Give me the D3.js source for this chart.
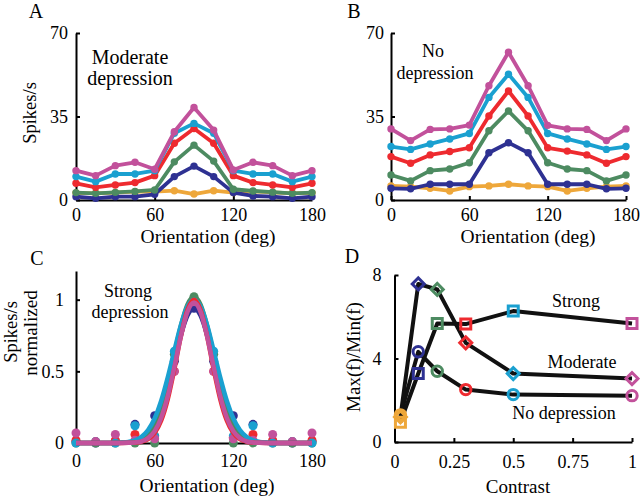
<!DOCTYPE html>
<html>
<head>
<meta charset="utf-8">
<script src="https://cdn.jsdelivr.net/npm/d3@7"></script>
<style>
  body { margin: 0; background: #fff; }
  .axis path, .axis line { stroke: #000; stroke-width: 2; }
  .axis text { font-size: 18px; fill: #000; }
  .lbl { fill: #000; }
</style>
</head>
<body>
<svg width="640" height="498"></svg>
<script>
let serif = "'Liberation Serif', 'Times New Roman', Times, 'DejaVu Serif', serif"

// orientations (deg) for panels A-C
let orient = [0, 15, 30, 45, 60, 75, 90, 105, 120, 135, 150, 165, 180]
let colors = ['#eea73a', '#2e3192', '#4d8b61', '#ee2a2f', '#1aa0d0', '#c2519b']
let seriesNames = ['orange', 'blue', 'green', 'red', 'cyan', 'magenta']

// panel A: moderate depression (spikes/s)
let aOrange  = [3.0, 2.8, 3.1, 3.5, 3.5, 3.9, 2.5, 3.9, 3.1, 3.6, 3.2, 2.8, 3.0]
let aBlue    = [1.4, 0.7, 1.4, 1.4, 2.4, 9.8, 14.2, 9.8, 3.1, 1.7, 1.4, 0.7, 1.4]
let aGreen   = [3.1, 2.8, 3.2, 3.6, 4.2, 16.0, 23.0, 16.3, 4.5, 3.8, 3.3, 2.8, 3.1]
let aRed     = [7.0, 5.3, 6.3, 7.3, 10.2, 23.8, 30.0, 23.8, 10.2, 7.3, 6.3, 5.3, 7.0]
let aCyan    = [9.8, 7.7, 10.9, 10.9, 12.3, 28.0, 32.1, 28.0, 12.3, 10.9, 10.9, 7.7, 9.8]
let aMagenta = [12.3, 10.2, 14.4, 15.8, 12.9, 28.6, 38.8, 29.3, 12.6, 15.8, 14.4, 10.2, 12.3]

// panel B: no depression (spikes/s)
let bOrange  = [5.9, 5.6, 4.9, 3.8, 5.6, 5.9, 6.6, 5.9, 5.6, 3.8, 4.9, 5.6, 5.9]
let bBlue    = [4.9, 4.7, 6.6, 6.6, 6.6, 19.8, 24.0, 19.8, 6.6, 6.6, 6.6, 4.7, 4.9]
let bGreen   = [10.5, 8.0, 12.3, 13.0, 15.6, 29.0, 37.3, 29.0, 15.6, 13.0, 12.3, 8.0, 10.5]
let bRed     = [18.2, 15.4, 18.9, 20.3, 21.9, 35.2, 45.7, 35.2, 21.9, 20.5, 18.9, 15.4, 18.2]
let bCyan    = [22.4, 21.2, 23.5, 25.6, 27.9, 43.0, 52.7, 43.0, 27.9, 25.6, 23.5, 21.2, 22.4]
let bMagenta = [29.8, 24.9, 29.6, 29.8, 31.4, 47.9, 61.9, 47.9, 31.3, 29.8, 29.6, 24.9, 29.8]

// panel C: strong depression, normalized points
let cBlue    = [0.01, 0.0, 0.01, 0.13, 0.19, 0.57, 0.94, 0.57, 0.19, 0.13, 0.01, 0.0, 0.01]
let cGreen   = [0.0, 0.0, 0.0, 0.0, 0.0, 0.62, 1.02, 0.62, 0.0, 0.0, 0.0, 0.0, 0.0]
let cRed     = [0.02, 0.01, 0.02, 0.06, 0.05, 0.5, 1.0, 0.5, 0.04, 0.06, 0.02, 0.01, 0.02]
let cCyan    = [0.0, 0.01, 0.0, 0.12, 0.05, 0.64, 1.0, 0.64, 0.05, 0.12, 0.0, 0.01, 0.0]
let cMagenta = [0.07, 0.01, 0.06, 0.02, 0.03, 0.5, 0.98, 0.5, 0.03, 0.02, 0.06, 0.01, 0.07]

// panel C: fitted curves
let fitX       = [0, 30, 35, 40, 45, 50, 55, 60, 65, 70, 75, 80, 85, 90, 95, 100, 105, 110, 115, 120, 125, 130, 135, 140, 145, 150, 180]
let fitCyan    = [0, 0, 0.003, 0.008, 0.019, 0.044, 0.091, 0.172, 0.295, 0.458, 0.644, 0.823, 0.952, 1.0, 0.952, 0.823, 0.644, 0.458, 0.295, 0.172, 0.091, 0.044, 0.019, 0.008, 0.003, 0, 0]
let fitGreen   = [0, 0, 0.001, 0.004, 0.011, 0.030, 0.067, 0.138, 0.254, 0.419, 0.619, 0.817, 0.965, 1.02, 0.965, 0.817, 0.619, 0.419, 0.254, 0.138, 0.067, 0.030, 0.011, 0.004, 0.001, 0, 0]
let fitBlue    = [0, 0, 0.001, 0.004, 0.010, 0.027, 0.062, 0.127, 0.234, 0.386, 0.571, 0.753, 0.889, 0.94, 0.889, 0.753, 0.571, 0.386, 0.234, 0.127, 0.062, 0.027, 0.010, 0.004, 0.001, 0, 0]
let fitRed     = [0, 0, 0, 0.001, 0.003, 0.009, 0.027, 0.070, 0.157, 0.306, 0.514, 0.744, 0.929, 1.0, 0.929, 0.744, 0.514, 0.306, 0.157, 0.070, 0.027, 0.009, 0.003, 0.001, 0, 0, 0]
let fitMagenta = [0, 0, 0, 0.001, 0.004, 0.012, 0.034, 0.083, 0.176, 0.327, 0.528, 0.745, 0.915, 0.98, 0.915, 0.745, 0.528, 0.327, 0.176, 0.083, 0.034, 0.012, 0.004, 0.001, 0, 0, 0]

// panel D: max/min vs contrast
let contrast = [0.025, 0.1, 0.18, 0.3, 0.5, 1.0]
let dStrong   = [0.95, 3.28, 5.68, 5.65, 6.27, 5.68]
let dModerate = [1.2, 7.57, 7.31, 4.75, 3.28, 3.04]
let dNone     = [1.3, 4.32, 3.39, 2.51, 2.27, 2.22]

let orientTicks = [0, 60, 120, 180]
let spikeTicks = [0, 35, 70]
let normTicks = [0, 0.5, 1]
let contrastTicks = [0, 0.25, 0.5, 0.75, 1]
let contrastTickLabels = ['0', '0.25', '0.5', '0.75', '1']
let ratioTicks = [0, 4, 8]

let svg = d3.select('svg')

let makeAxes = (xScale, yScale, xTicks, yTicks, xFmt, yFmt, xPad, yPad) => {
  let y0 = yScale.range()[0]
  let x0 = xScale.range()[0]
  svg.append('g')
     .attr('class', 'axis')
     .attr('transform', 'translate(0,' + y0 + ')')
     .call(d3.axisBottom(xScale).tickValues(xTicks).tickFormat(xFmt)
             .tickSizeInner(-4).tickSizeOuter(0).tickPadding(xPad))
     .attr('font-family', serif)
  svg.append('g')
     .attr('class', 'axis')
     .attr('transform', 'translate(' + x0 + ',0)')
     .call(d3.axisLeft(yScale).tickValues(yTicks).tickFormat(yFmt)
             .tickSizeInner(-4).tickSizeOuter(0).tickPadding(yPad))
     .attr('font-family', serif)
}

let text = (x, y, s, size, rot) => {
  let t = svg.append('text')
     .attr('class', 'lbl')
     .attr('font-family', serif)
     .attr('font-size', size)
     .attr('text-anchor', 'middle')
     .text(s)
  if (rot) t.attr('transform', 'translate(' + x + ',' + y + ') rotate(-90)')
  else t.attr('x', x).attr('y', y)
}

let tuningPanel = (xScale, yScale, sets, lw, r) => {
  let line = d3.line().x((d, i) => xScale(orient[i])).y((d) => yScale(d))
  sets.forEach((vals, k) => {
    let g = svg.append('g').attr('class', 'series-' + seriesNames[k])
    g.append('path')
     .attr('d', line(vals))
     .attr('fill', 'none')
     .attr('stroke', colors[k])
     .attr('stroke-width', lw)
     .attr('stroke-linejoin', 'round')
    g.selectAll('circle')
     .data(vals)
     .enter()
     .append('circle')
     .attr('cx', (d, i) => xScale(orient[i]))
     .attr('cy', (d) => yScale(d))
     .attr('r', r)
     .attr('fill', colors[k])
  })
}

let fmt0 = d3.format('d')

// ---- panel A
let xA = d3.scaleLinear().domain([0, 180]).range([76, 312])
let yA = d3.scaleLinear().domain([0, 70]).range([200, 33])
makeAxes(xA, yA, orientTicks, spikeTicks, fmt0, fmt0, 8, 8)
tuningPanel(xA, yA, [aOrange, aBlue, aGreen, aRed, aCyan, aMagenta], 3.8, 3.7)
text(36, 18, 'A', 20)
text(130, 64, 'Moderate', 20)
text(130, 85, 'depression', 20)
text(36, 113, 'Spikes/s', 18.5, true)
text(208, 243, 'Orientation (deg)', 19.5)

// ---- panel B
let xB = d3.scaleLinear().domain([0, 180]).range([391, 626])
let yB = d3.scaleLinear().domain([0, 70]).range([200, 33])
makeAxes(xB, yB, orientTicks, spikeTicks, fmt0, fmt0, 8, 7)
tuningPanel(xB, yB, [bOrange, bBlue, bGreen, bRed, bCyan, bMagenta], 3.8, 3.7)
text(354, 18, 'B', 20)
text(433, 57, 'No', 18)
text(435, 79, 'depression', 18)
text(528, 243, 'Orientation (deg)', 19.5)

// ---- panel C
let xC = d3.scaleLinear().domain([0, 180]).range([76, 312])
let yC = d3.scaleLinear().domain([0, 1.2]).range([443, 271])
makeAxes(xC, yC, orientTicks, normTicks, fmt0, d3.format('~g'), 11, 12)
let cPts = [cBlue, cGreen, cRed, cCyan, cMagenta]
let cFits = [fitBlue, fitGreen, fitCyan, fitRed, fitMagenta]
let cFitColors = [colors[1], colors[2], colors[4], colors[3], colors[5]]
cPts.forEach((vals, k) => {
  svg.append('g').selectAll('circle')
     .data(vals)
     .enter()
     .append('circle')
     .attr('cx', (d, i) => xC(orient[i]))
     .attr('cy', (d) => yC(d))
     .attr('r', 4.5)
     .attr('fill', colors[k + 1])
})
let fitLine = d3.line().curve(d3.curveMonotoneX).x((d, i) => xC(fitX[i])).y((d) => yC(d))
cFits.forEach((vals, k) => {
  svg.append('path')
     .attr('d', fitLine(vals))
     .attr('fill', 'none')
     .attr('stroke', cFitColors[k])
     .attr('stroke-width', 4.5)
})
text(37, 265, 'C', 20)
text(128, 297, 'Strong', 18)
text(130, 318, 'depression', 18)
text(17, 332, 'Spikes/s', 18.5, true)
text(37, 333, 'normalized', 19, true)
text(207, 492, 'Orientation (deg)', 19.5)

// ---- panel D
let xD = d3.scaleLinear().domain([0, 1]).range([394.5, 632])
let yD = d3.scaleLinear().domain([0, 8]).range([442, 275])
makeAxes(xD, yD, contrastTicks, ratioTicks, (d, i) => contrastTickLabels[i], fmt0, 13, 13)
let dLine = d3.line().x((d, i) => xD(contrast[i])).y((d) => yD(d))
let dSets = [dNone, dStrong, dModerate]
let dShapes = [d3.symbolCircle, d3.symbolSquare, d3.symbolSquare]
let dSizes = [85, 100, 72]
let dRot = [0, 0, 45]
dSets.forEach((vals) => {
  svg.append('path')
     .attr('d', dLine(vals))
     .attr('fill', 'none')
     .attr('stroke', '#111')
     .attr('stroke-width', 4)
     .attr('stroke-linejoin', 'round')
})
dSets.forEach((vals, s) => {
  svg.append('g').selectAll('path')
     .data(vals)
     .enter()
     .append('path')
     .attr('d', d3.symbol().type(dShapes[s]).size(dSizes[s]))
     .attr('transform', (d, i) => 'translate(' + xD(contrast[i]) + ',' + yD(d) + ') rotate(' + dRot[s] + ')')
     .attr('fill', 'none')
     .attr('stroke', (d, i) => colors[i])
     .attr('stroke-width', 3)
})
text(352, 263, 'D', 20)
text(576, 307, 'Strong', 18)
text(582, 368, 'Moderate', 18)
text(564, 419, 'No depression', 18)
text(360, 357, 'Max(f)/Min(f)', 19, true)
text(518, 493, 'Contrast', 19)
</script>
</body>
</html>
